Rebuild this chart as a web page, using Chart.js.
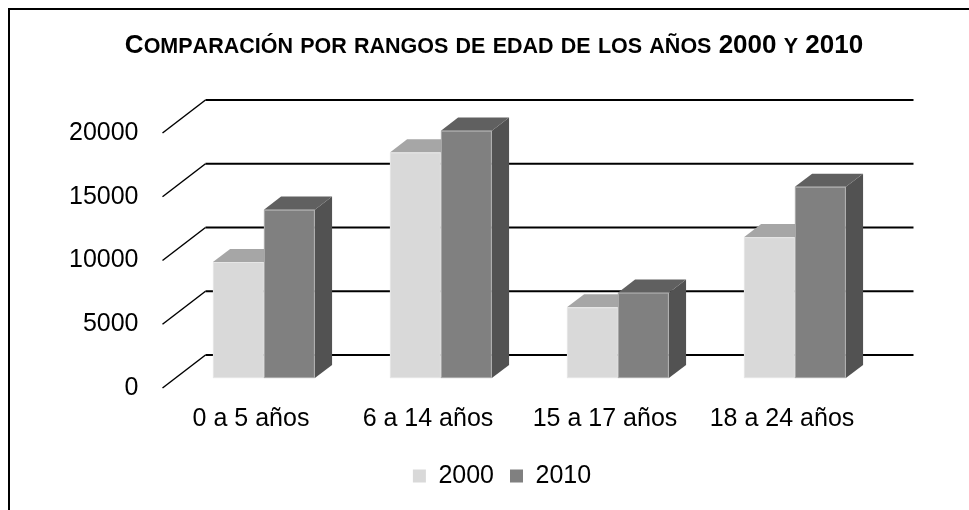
<!DOCTYPE html>
<html>
<head>
<meta charset="utf-8">
<title>Comparación por rangos de edad</title>
<script src="https://cdn.jsdelivr.net/npm/chart.js@4.4.0/dist/chart.umd.min.js"></script>
<style>
  html, body { margin: 0; padding: 0; background: #fff; }
  canvas { display: block; }
</style>
</head>
<body>
<canvas id="edadChart" width="969" height="510"></canvas>
<script>
// Datos del gráfico
const categorias = ['0 a 5 años', '6 a 14 años', '15 a 17 años', '18 a 24 años'];
const series = ['2000', '2010'];
const valores2000 = [9100, 17700, 5550, 11050];
const valores2010 = [13200, 19400, 6700, 15000];
const ticksY = [0, 5000, 10000, 15000, 20000];
const titulo = 'Comparación por rangos de edad de los años 2000 y 2010';

const FONT = '"Liberation Sans", Arial, sans-serif';

// Perspectiva: desplazamiento de la pared del fondo y posición de las barras en la profundidad
const DX = 43, DY = -33;
const FRENTE = 0.3, FONDO = 0.7;

// Colores de las caras de cada serie
const caras = [
    { frente: '#d9d9d9', arriba: '#a6a6a6', lado: '#b8b8b8' },
    { frente: '#808080', arriba: '#606060', lado: '#525252' }
];

function poligono(ctx, puntos, color) {
    ctx.fillStyle = color;
    ctx.beginPath();
    ctx.moveTo(puntos[0][0], puntos[0][1]);
    for (let i = 1; i < puntos.length; i++) ctx.lineTo(puntos[i][0], puntos[i][1]);
    ctx.closePath();
    ctx.fill();
}

/**
 * Título en versalitas: las minúsculas se escriben como mayúsculas más pequeñas
 */
function dibujarTitulo(ctx, texto, cx, baseY, grande, chica) {
    const partes = [];
    let total = 0;
    for (const ch of texto) {
        const minus = ch !== ch.toUpperCase();
        const p = { t: ch.toUpperCase(), size: minus ? chica : grande };
        ctx.font = 'bold ' + p.size + 'px ' + FONT;
        p.w = ctx.measureText(p.t).width;
        total += p.w;
        partes.push(p);
    }
    let x = cx - total / 2;
    ctx.textAlign = 'left';
    ctx.textBaseline = 'alphabetic';
    partes.forEach(p => {
        ctx.font = 'bold ' + p.size + 'px ' + FONT;
        ctx.fillText(p.t, x, baseY);
        x += p.w;
    });
}

/**
 * Dibuja la pared del fondo con sus líneas y las columnas en 3D
 */
const barras3d = {
    id: 'barras3d',
    beforeDraw(chart) {
        // marco del gráfico
        const ctx = chart.ctx;
        ctx.save();
        ctx.strokeStyle = '#000';
        ctx.lineWidth = 2;
        ctx.strokeRect(9, 9, chart.width + 20, chart.height + 20);
        ctx.restore();
    },
    beforeDatasetsDraw(chart) {
        const { ctx, chartArea: a, scales: { y } } = chart;
        ctx.save();
        ctx.strokeStyle = '#000';
        y.ticks.forEach(t => {
            const py = y.getPixelForValue(t.value);
            ctx.lineWidth = 1.5;
            ctx.beginPath();
            ctx.moveTo(a.left, py);
            ctx.lineTo(a.left + DX, py + DY);
            ctx.stroke();
            ctx.lineWidth = 2;
            ctx.beginPath();
            ctx.moveTo(a.left + DX, py + DY);
            ctx.lineTo(a.right + DX, py + DY);
            ctx.stroke();
        });

        const ox = DX * FRENTE, oy = DY * FRENTE;
        const px = DX * (FONDO - FRENTE), pz = DY * (FONDO - FRENTE);
        categorias.forEach((c, i) => {
            chart.data.datasets.forEach((ds, d) => {
                const el = chart.getDatasetMeta(d).data[i];
                const l = el.x - el.width / 2 + ox;
                const r = el.x + el.width / 2 + ox;
                const top = el.y + oy;
                const bot = el.base + oy;
                const col = caras[d];
                poligono(ctx, [[r, top], [r + px, top + pz], [r + px, bot + pz], [r, bot]], col.lado);
                poligono(ctx, [[l, top], [r, top], [r + px, top + pz], [l + px, top + pz]], col.arriba);
                ctx.fillStyle = col.frente;
                ctx.fillRect(l, top, r - l, bot - top);
                // borde claro de la cara frontal
                ctx.strokeStyle = 'rgba(255,255,255,0.35)';
                ctx.lineWidth = 1;
                ctx.strokeRect(l + 0.5, top + 0.5, r - l - 1, bot - top - 1);
            });
        });
        ctx.restore();
        return false;
    },
    afterDraw(chart) {
        const ctx = chart.ctx;
        ctx.save();
        ctx.fillStyle = '#000';
        dibujarTitulo(ctx, titulo, 494, 53, 26, 21.5);
        ctx.restore();
    }
};

new Chart(document.getElementById('edadChart'), {
    type: 'bar',
    data: {
        labels: categorias,
        datasets: [
            { label: series[0], data: valores2000, backgroundColor: caras[0].frente, borderWidth: 0 },
            { label: series[1], data: valores2010, backgroundColor: caras[1].frente, borderWidth: 0 }
        ]
    },
    options: {
        responsive: false,
        animation: false,
        events: [],
        datasets: {
            bar: { categoryPercentage: 0.576, barPercentage: 1 }
        },
        layout: {
            padding: { left: 35, right: 0, top: 133, bottom: 11.5 }
        },
        scales: {
            x: {
                grid: { display: false, drawTicks: false },
                border: { display: false },
                ticks: {
                    color: '#000',
                    font: { family: FONT, size: 25 },
                    padding: 16,
                    maxRotation: 0,
                    autoSkip: false
                },
                afterFit: s => { s.height = 59.5; }
            },
            y: {
                min: ticksY[0],
                max: ticksY[ticksY.length - 1],
                grid: { display: false, drawTicks: false },
                border: { display: false },
                ticks: {
                    stepSize: ticksY[1] - ticksY[0],
                    color: '#000',
                    font: { family: FONT, size: 25 },
                    padding: 24,
                    callback: v => String(v)
                },
                afterFit: s => { s.width = 127.5; }
            },
            y2: {
                position: 'right',
                grid: { display: false, drawTicks: false },
                border: { display: false },
                ticks: { display: false },
                afterFit: s => { s.width = 98.5; }
            }
        },
        plugins: {
            legend: {
                position: 'bottom',
                labels: {
                    color: '#000',
                    font: { family: FONT, size: 25 },
                    boxWidth: 13,
                    boxHeight: 13,
                    padding: 16
                }
            },
            title: { display: false },
            tooltip: { enabled: false }
        }
    },
    plugins: [barras3d]
});
</script>
</body>
</html>
